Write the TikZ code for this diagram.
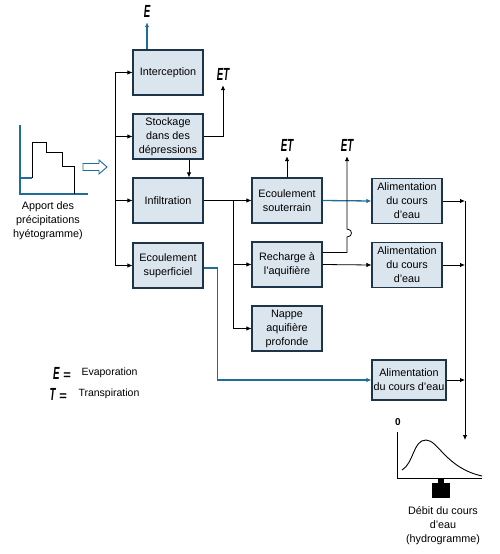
\documentclass[tikz,border=0pt]{standalone}
\usepackage{fontspec}
\setmainfont{Liberation Sans}
\usetikzlibrary{arrows.meta}
\definecolor{boxfill}{HTML}{DAE5EE}
\definecolor{boxline}{HTML}{1E3448}
\definecolor{flowblue}{HTML}{1F6E9A}
\newcommand{\tallsym}[1]{\scalebox{0.75}[1.35]{#1}}
\tikzset{
  procbox/.style={draw=boxline, line width=1.1pt, fill=boxfill, minimum width=70pt,
    minimum height=45pt, inner sep=1pt, align=center, font=\fontsize{10.8}{14}\selectfont},
  arr/.style={-{Latex[length=5pt,width=4.5pt]}, line width=0.8pt},
  bluearr/.style={arr, draw=flowblue, line width=1.3pt},
  symb/.style={font=\fontsize{13}{13}\selectfont\bfseries\itshape, inner sep=1pt},
  txt/.style={font=\fontsize{10.8}{14}\selectfont, align=center, inner sep=0pt}
}
\begin{document}
\begin{tikzpicture}[x=1pt, y=-1pt]
    \useasboundingbox (0,0) rectangle (500,554);

    % Hyetograph: rain input on the left
    \draw[flowblue, line width=1.2pt] (20,125) -- (20,194) -- (88,194);
    \draw[flowblue, line width=1.2pt] (20,178) -- (32,178);
    \draw[line width=0.8pt] (32,178) -- (32,142) -- (46,142) -- (46,152) -- (62,152)
        -- (62,166) -- (74,166) -- (74,194);
    \node[txt] (rainlab) at (48,221) {Apport des\\précipitations\\hyétogramme)};
    % Hollow arrow towards the boxes
    \draw[flowblue, fill=white, line width=0.9pt] (83,163.5) -- (99,163.5) -- (99,160)
        -- (107,167) -- (99,174) -- (99,170.5) -- (83,170.5) -- cycle;

    % First column of processes
    \node[procbox] (interc) at (168,72.5) {Interception};
    \node[procbox] (stock) at (168,136.5) {Stockage\\dans des\\dépressions};
    \node[procbox] (infil) at (168,200.5) {Infiltration};
    \node[procbox] (surf) at (168,265.5) {Ecoulement\\superficiel};

    % Second column
    \node[procbox] (sout) at (287,200.5) {Ecoulement\\souterrain};
    \node[procbox] (rech) at (287,264.5) {Recharge à\\l'aquifière};
    \node[procbox] (nappe) at (287,328.5) {Nappe\\aquifière\\profonde};

    % Third column: feeding the stream
    \node[procbox] (alim1) at (407,201) {Alimentation\\du cours\\d'eau};
    \node[procbox] (alim2) at (407,265) {Alimentation\\du cours\\d'eau};
    \node[procbox, minimum width=74pt, minimum height=40pt] (alim3) at (409,380)
        {Alimentation\\du cours d'eau};

    % Trunk that shares the rain between the first boxes
    \coordinate (trunktop) at (115,72.5);
    \coordinate (trunkbot) at (115,265.5);
    \draw[line width=0.8pt] (trunktop) -- (trunkbot);
    \foreach \b in {interc,stock,infil,surf}
        \draw[arr] (trunktop |- \b.west) -- (\b.west);

    % Evaporation and evapotranspiration outputs
    \node[symb] (evap) at (147,11) {\tallsym{E}};
    \draw[bluearr] (interc.north -| evap) -- ([yshift=-4pt]evap.south);
    \node[symb] (et1) at (223,74) {\tallsym{ET}};
    \draw[arr] (stock.east) -| ([yshift=-4pt]et1.south);
    \draw[arr] ([xshift=21pt]stock.south) -- ([xshift=21pt]infil.north);

    % Infiltration splits into three
    \coordinate (split) at (233,200.5);
    \draw[arr] (infil.east) -- (sout.west);
    \draw[line width=0.8pt] (split) -- (split |- nappe.west);
    \draw[arr] (split |- rech.west) -- (rech.west);
    \draw[arr] (split |- nappe.west) -- (nappe.west);

    % Outputs of the second column
    \node[symb] (et2) at (287,145) {\tallsym{ET}};
    \node[symb] (et3) at (347,145) {\tallsym{ET}};
    \draw[arr] (sout.north) -- ([yshift=-4pt]et2.south);
    \draw[bluearr] (sout.east) -- (alim1.west);
    \coordinate (hopbot) at (347,237);
    \coordinate (hoptop) at (347,229);
    \draw[arr] ([yshift=12pt]rech.east) -| (hopbot) .. controls +(6,0) and +(6,0) .. (hoptop)
        -- ([yshift=-4pt]et3.south);
    \draw[arr] (rech.east) -- (alim2.west);

    % Surface runoff goes straight to the stream
    \draw[bluearr] ([yshift=-2.5pt]surf.east) -- ++(14,0) |- (alim3.west);

    % Collector on the right
    \coordinate (colltop) at (465,201);
    \coordinate (collbot) at (465,440);
    \draw[arr] (colltop) -- (collbot);
    \draw[arr] (alim1.east) -- (colltop);
    \draw[arr] (alim2.east) -- (colltop |- alim2.east);
    \draw[arr] (alim3.east) -- (colltop |- alim3.east);

    % Hydrograph
    \draw[line width=0.9pt] (397,432) -- (397,478) -- (482,478);
    \draw[line width=0.9pt] (402,470) .. controls (414,463) and (413,440) .. (426,440)
        .. controls (438,440) and (446,468) .. (482,476);
    \node[font=\bfseries\fontsize{10}{10}\selectfont] (qlab) at (398,422) {0};
    \fill (432,483) rectangle (450,498);
    \fill (438,479) rectangle (444,483);
    \node[txt] (hydlab) at (443,526) {Débit du cours\\d'eau\\(hydrogramme)};

    % Legend
    \node[symb, anchor=east] (legE) at (72,373) {\tallsym{E} =};
    \node[font=\fontsize{10.5}{10.5}\selectfont, anchor=west] (legEtxt) at (78,373) {Evaporation};
    \node[symb, anchor=east] (legT) at (68,394) {\tallsym{T} =};
    \node[font=\fontsize{10.5}{10.5}\selectfont, anchor=west] (legTtxt) at (75,394) {Transpiration};
\end{tikzpicture}
\end{document}
